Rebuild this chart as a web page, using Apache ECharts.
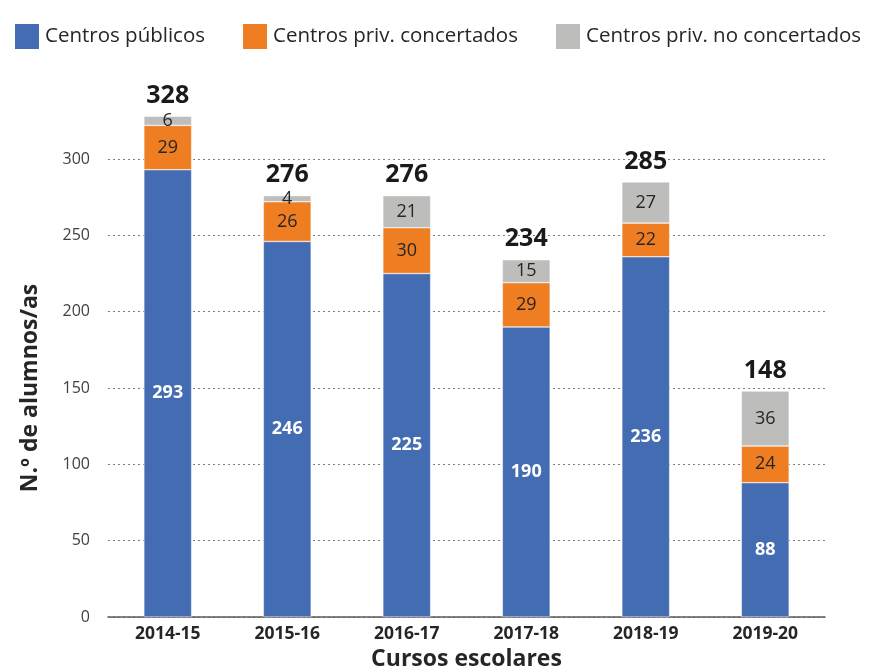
<!DOCTYPE html>
<html>
<head>
<meta charset="utf-8">
<script src="https://cdn.jsdelivr.net/npm/echarts@6/dist/echarts.min.js"></script>
<style>
html, body { margin: 0; padding: 0; background: #fff; }
#main { width: 878px; height: 668px; }
</style>
</head>
<body>
<div id="main"></div>
<script>
var cursos = ['2014-15', '2015-16', '2016-17', '2017-18', '2018-19', '2019-20'];
var publicos = [293, 246, 225, 190, 236, 88];
var concertados = [29, 26, 30, 29, 22, 24];
var noConcertados = [6, 4, 21, 15, 27, 36];
var totales = cursos.map(function (c, i) {
    return publicos[i] + concertados[i] + noConcertados[i];
});

var myChart = echarts.init(document.getElementById('main'));
var font = '"Open Sans", sans-serif';

option = {
    textStyle: { fontFamily: font },
    legend: {
        data: ['Centros públicos', 'Centros priv. concertados', 'Centros priv. no concertados'],
        left: 8,
        top: 17,
        itemWidth: 26,
        itemHeight: 27,
        itemGap: 36,
        icon: 'rect',
        textStyle: { fontFamily: font, fontSize: 20.5, color: '#262626' }
    },
    grid: { left: 108, right: 53, top: 159, bottom: 51, outerBoundsMode: 'none', containLabel: false },
    xAxis: {
        type: 'category',
        data: cursos,
        name: 'Cursos escolares',
        nameLocation: 'middle',
        nameGap: 29,
        nameTextStyle: { fontFamily: font, fontSize: 23, fontWeight: 'bold', color: '#262626' },
        axisTick: { show: false },
        axisLine: { lineStyle: { color: '#595959', width: 1.5 } },
        axisLabel: { fontFamily: font, fontSize: 17.5, fontWeight: 'bold', color: '#262626', margin: 8 }
    },
    yAxis: {
        type: 'value',
        min: 0,
        max: 300,
        interval: 50,
        name: 'N.º de alumnos/as',
        nameLocation: 'middle',
        nameGap: 66,
        nameTextStyle: { fontFamily: font, fontSize: 23, fontWeight: 'bold', color: '#262626' },
        axisLine: { show: false },
        axisTick: { show: false },
        axisLabel: { fontFamily: font, fontSize: 16, color: '#404040', margin: 18 },
        splitLine: { lineStyle: { type: [2, 3], color: '#7f7f7f', width: 1 } }
    },
    series: [
        {
            name: 'Centros públicos',
            type: 'bar',
            stack: 'total',
            barWidth: '40%',
            clip: false,
            itemStyle: { color: '#446cb3', borderColor: '#ffffff', borderWidth: 0.5 },
            label: { show: true, position: 'inside', fontFamily: font, fontSize: 18, fontWeight: 'bold', color: '#ffffff' },
            data: publicos
        },
        {
            name: 'Centros priv. concertados',
            type: 'bar',
            stack: 'total',
            clip: false,
            itemStyle: { color: '#ef7d22', borderColor: '#ffffff', borderWidth: 0.5 },
            label: { show: true, position: 'inside', fontFamily: font, fontSize: 18, color: '#262626' },
            data: concertados
        },
        {
            name: 'Centros priv. no concertados',
            type: 'bar',
            stack: 'total',
            clip: false,
            itemStyle: { color: '#bdbdbb', borderColor: '#ffffff', borderWidth: 0.5 },
            label: { show: true, position: 'inside', fontFamily: font, fontSize: 18, color: '#262626' },
            data: noConcertados
        },
        {
            name: 'Total',
            type: 'bar',
            stack: 'total',
            clip: false,
            itemStyle: { color: 'transparent' },
            label: {
                show: true,
                position: 'top',
                distance: 8,
                fontFamily: font,
                fontSize: 25,
                fontWeight: 'bold',
                color: '#1a1a1a',
                formatter: function (p) { return totales[p.dataIndex]; }
            },
            data: cursos.map(function () { return 0; })
        }
    ]
};
myChart.setOption(option);
</script>
</body>
</html>
